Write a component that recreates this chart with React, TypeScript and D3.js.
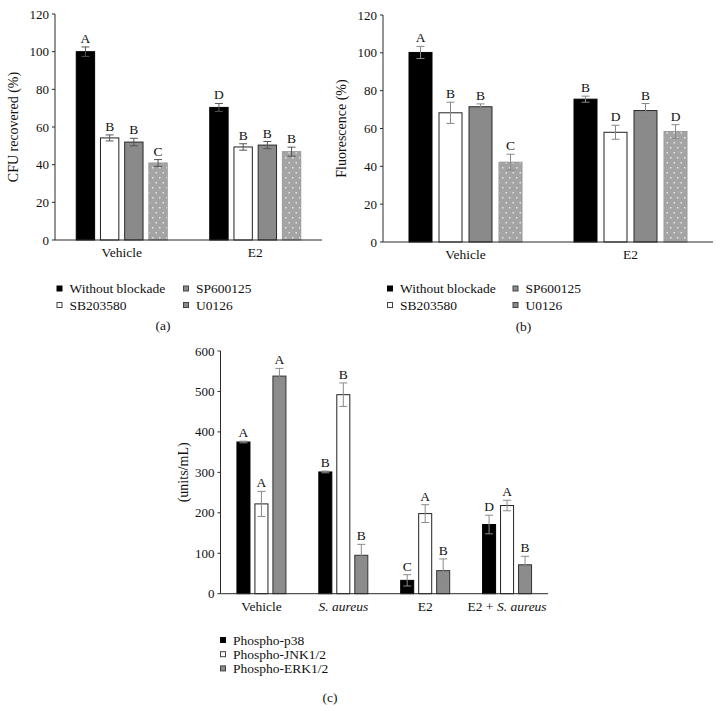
import React from "react";
import * as d3 from "d3";

const blockadeSeries = ["Without blockade", "SB203580", "SP600125", "U0126"];
const groupsAB = ["Vehicle", "E2"];

// Panel (a): CFU recovered (%)
const cfuVehicle = [100, 54.2, 52, 40.9];
const cfuVehicleErr = [2.5, 1.6, 2, 1.8];
const cfuVehicleLetters = ["A", "B", "B", "C"];
const cfuE2 = [70.4, 49.4, 50.4, 46.9];
const cfuE2Err = [2.1, 1.7, 1.9, 2.4];
const cfuE2Letters = ["D", "B", "B", "B"];

// Panel (b): Fluorescence (%)
const fluVehicle = [100.2, 68.3, 71.5, 42.2];
const fluVehicleErr = [3.2, 5.6, 1.5, 4.2];
const fluVehicleLetters = ["A", "B", "B", "C"];
const fluE2 = [75.5, 58, 69.5, 58.4];
const fluE2Err = [1.6, 3.7, 3.7, 3.6];
const fluE2Letters = ["B", "D", "B", "D"];

const abTicks = [0, 20, 40, 60, 80, 100, 120];

// Panel (c): units/mL
const phosphoSeries = ["Phospho-p38", "Phospho-JNK1/2", "Phospho-ERK1/2"];
const groupsC = ["Vehicle", "S. aureus", "E2", "E2 + S. aureus"];
const p38Values = [375, 301, 33, 171];
const p38Err = [2, 2, 14, 23];
const p38Letters = ["A", "B", "C", "D"];
const jnkValues = [222, 492, 198, 218];
const jnkErr = [31, 29, 22, 13];
const jnkLetters = ["A", "B", "A", "A"];
const erkValues = [538, 95, 57, 71.5];
const erkErr = [19, 27, 29, 21];
const erkLetters = ["A", "B", "B", "B"];
const cTicks = [0, 100, 200, 300, 400, 500, 600];

const FONT = "'Liberation Serif', 'Times New Roman', serif";
const AXIS = "#2a2a2a";

type BarStyle = { fill: string; stroke: string };
const abStyles: BarStyle[] = [
  { fill: "#000", stroke: "#000" },
  { fill: "#fff", stroke: "#222" },
  { fill: "#8a8a8a", stroke: "#2a2a2a" },
  { fill: "url(#dots)", stroke: "#9a9a9a" },
];
const cStyles: BarStyle[] = [
  { fill: "#000", stroke: "#000" },
  { fill: "#fff", stroke: "#222" },
  { fill: "#8c8c8c", stroke: "#333" },
];
const legendAB: BarStyle[] = [
  { fill: "#000", stroke: "#000" },
  { fill: "#fff", stroke: "#444" },
  { fill: "#8a8a8a", stroke: "#444" },
  { fill: "#8a8a8a", stroke: "#444" },
];

type Row = { group: string; series: number; value: number; err: number; letter: string };

function buildRows(groups: string[], vals: number[][], errs: number[][], letters: string[][]): Row[] {
  const rows: Row[] = [];
  groups.forEach((g, gi) => {
    vals[gi].forEach((v, si) => {
      rows.push({ group: g, series: si, value: v, err: errs[gi][si], letter: letters[gi][si] });
    });
  });
  return rows;
}

function Panel(props: {
  x0: number; x1: number; yTop: number; yBottom: number; max: number; ticks: number[];
  groups: string[]; rows: Row[]; nSeries: number; groupWidth: number; pad: number;
  styles: BarStyle[]; errColor: string; ylabel: string; ylabelX: number;
}) {
  const { x0, x1, yTop, yBottom, max, ticks, groups, rows, nSeries, groupWidth, pad, styles, errColor, ylabel, ylabelX } = props;
  const y = d3.scaleLinear().domain([0, max]).range([yBottom, yTop]);
  const xg = d3.scaleBand<string>().domain(groups).range([x0, x1]).padding(0);
  const xs = d3.scaleBand<number>().domain(d3.range(nSeries)).range([-groupWidth / 2, groupWidth / 2]).paddingInner(pad).paddingOuter(0);
  const bw = xs.bandwidth();
  const yMid = (yTop + yBottom) / 2;
  return (
    <g>
      {rows.map((r, i) => {
        const cx = (xg(r.group) as number) + xg.bandwidth() / 2 + (xs(r.series) as number);
        const st = styles[r.series];
        const top = y(r.value);
        const et = y(r.value + r.err);
        const eb = y(r.value - r.err);
        const mid = cx + bw / 2;
        return (
          <g key={i}>
            <rect x={cx + 0.5} y={top} width={bw - 1} height={yBottom - top} fill={st.fill} stroke={st.stroke} strokeWidth={1} />
            <line x1={mid} x2={mid} y1={et} y2={eb} stroke={errColor} strokeWidth={1} />
            <line x1={mid - 4} x2={mid + 4} y1={et} y2={et} stroke={errColor} strokeWidth={1} />
            <line x1={mid - 4} x2={mid + 4} y1={eb} y2={eb} stroke={errColor} strokeWidth={1} />
            <text x={mid} y={et - 4} textAnchor="middle" fontSize={13.5} fontFamily={FONT} fill="#111">{r.letter}</text>
          </g>
        );
      })}
      <line x1={x0} x2={x0} y1={yTop} y2={yBottom} stroke={AXIS} strokeWidth={1} />
      <line x1={x0} x2={x1} y1={yBottom} y2={yBottom} stroke={AXIS} strokeWidth={1} />
      {ticks.map((t) => (
        <g key={t}>
          <line x1={x0 - 3} x2={x0} y1={y(t)} y2={y(t)} stroke={AXIS} strokeWidth={1} />
          <text x={x0 - 6} y={y(t) + 4.5} textAnchor="end" fontSize={13} fontFamily={FONT} fill="#111">{t}</text>
        </g>
      ))}
      {groups.map((g) => (
        <text key={g} x={(xg(g) as number) + xg.bandwidth() / 2} y={yBottom + 17} textAnchor="middle" fontSize={13.5} fontFamily={FONT} fill="#111">
          {g.includes("S. aureus") ? (
            g.startsWith("E2") ? (<><tspan>E2 + </tspan><tspan fontStyle="italic">S. aureus</tspan></>) : (<tspan fontStyle="italic">{g}</tspan>)
          ) : g}
        </text>
      ))}
      <text transform={`translate(${ylabelX},${yMid}) rotate(-90)`} textAnchor="middle" fontSize={14} fontFamily={FONT} fill="#111">{ylabel}</text>
    </g>
  );
}

function LegendItem(props: { x: number; y: number; label: string; st: BarStyle }) {
  const { x, y, label, st } = props;
  return (
    <g>
      <rect x={x - 2.5} y={y - 2.5} width={5} height={5} fill={st.fill} stroke={st.stroke} strokeWidth={1} />
      <text x={x + 10} y={y + 4.5} fontSize={13.5} fontFamily={FONT} fill="#111">{label}</text>
    </g>
  );
}

export default function App() {
  const rowsA = buildRows(groupsAB, [cfuVehicle, cfuE2], [cfuVehicleErr, cfuE2Err], [cfuVehicleLetters, cfuE2Letters]);
  const rowsB = buildRows(groupsAB, [fluVehicle, fluE2], [fluVehicleErr, fluE2Err], [fluVehicleLetters, fluE2Letters]);
  const cVals = groupsC.map((_, i) => [p38Values[i], jnkValues[i], erkValues[i]]);
  const cErrs = groupsC.map((_, i) => [p38Err[i], jnkErr[i], erkErr[i]]);
  const cLet = groupsC.map((_, i) => [p38Letters[i], jnkLetters[i], erkLetters[i]]);
  const rowsC = buildRows(groupsC, cVals, cErrs, cLet);

  return (
    <svg width={721} height={711} style={{ position: "absolute", left: 0, top: 0, background: "#fff" }}>
      <defs>
        <pattern id="dots" width={7} height={10} patternUnits="userSpaceOnUse">
          <rect width={7} height={10} fill="#a4a4a4" />
          <rect x={1.5} y={2} width={1.5} height={1.5} fill="#e6e6e6" />
          <rect x={5} y={7} width={1.5} height={1.5} fill="#e6e6e6" />
        </pattern>
      </defs>
      <rect width={721} height={711} fill="#fff" />
      <Panel x0={55} x1={322} yTop={14} yBottom={240} max={120} ticks={abTicks} groups={groupsAB} rows={rowsA}
        nSeries={4} groupWidth={92} pad={0.2} styles={abStyles} errColor="#555" ylabel="CFU recovered (%)" ylabelX={18} />
      <Panel x0={383} x1={713} yTop={15} yBottom={242} max={120} ticks={abTicks} groups={groupsAB} rows={rowsB}
        nSeries={4} groupWidth={114} pad={0.2} styles={abStyles} errColor="#888" ylabel="Fluorescence (%)" ylabelX={346} />
      <Panel x0={220.5} x1={548} yTop={351} yBottom={593.7} max={600} ticks={cTicks} groups={groupsC} rows={rowsC}
        nSeries={3} groupWidth={50} pad={0.22} styles={cStyles} errColor="#8a8a8a" ylabel="(units/mL)" ylabelX={188} />

      {/* Legend (a) */}
      <LegendItem x={59.5} y={288.5} label={blockadeSeries[0]} st={legendAB[0]} />
      <LegendItem x={59.5} y={305} label={blockadeSeries[1]} st={legendAB[1]} />
      <LegendItem x={186} y={288.5} label={blockadeSeries[2]} st={legendAB[2]} />
      <LegendItem x={186} y={305} label={blockadeSeries[3]} st={legendAB[3]} />
      <text x={163} y={330} textAnchor="middle" fontSize={13.5} fontFamily={FONT} fill="#111">(a)</text>

      {/* Legend (b) */}
      <LegendItem x={390} y={288.5} label={blockadeSeries[0]} st={legendAB[0]} />
      <LegendItem x={390} y={305} label={blockadeSeries[1]} st={legendAB[1]} />
      <LegendItem x={515.5} y={288.5} label={blockadeSeries[2]} st={legendAB[2]} />
      <LegendItem x={515.5} y={305} label={blockadeSeries[3]} st={legendAB[3]} />
      <text x={523.5} y={331} textAnchor="middle" fontSize={13.5} fontFamily={FONT} fill="#111">(b)</text>

      {/* Legend (c) */}
      {phosphoSeries.map((s, i) => (
        <LegendItem key={s} x={223} y={640 + i * 14.2} label={s} st={[legendAB[0], legendAB[1], legendAB[2]][i]} />
      ))}
      <text x={330} y={702} textAnchor="middle" fontSize={13.5} fontFamily={FONT} fill="#111">(c)</text>
    </svg>
  );
}
